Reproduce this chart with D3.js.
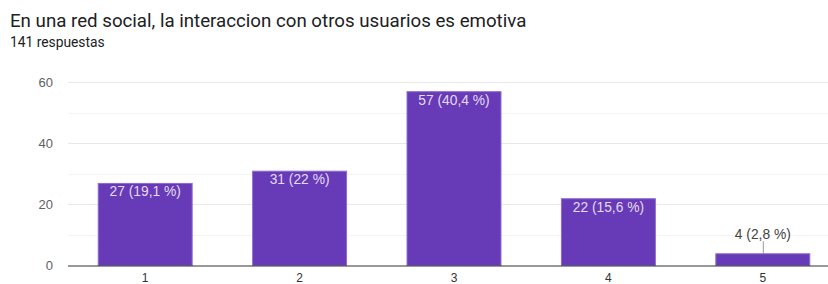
<!DOCTYPE html>
<html><head><meta charset="utf-8">
<script src="https://cdn.jsdelivr.net/npm/d3@7"></script>
<style>
body{margin:0;background:#fff;}
svg{display:block;}
</style></head>
<body>
<svg id="c" width="828" height="284"></svg>
<script>
const title = "En una red social, la interaccion con otros usuarios es emotiva";
const subtitle = "141 respuestas";
const categories = ["1","2","3","4","5"];
const values = [27, 31, 57, 22, 4];
const labels = ["27 (19,1 %)","31 (22 %)","57 (40,4 %)","22 (15,6 %)","4 (2,8 %)"];
const yTicks = [0, 20, 40, 60];
const yMinor = [10, 30, 50];

const svg = d3.select("#c");
svg.append("text").attr("x", 10).attr("y", 27)
  .attr("font-family", "Roboto, sans-serif").attr("font-size", 18.7).attr("fill", "#202124")
  .text(title);
svg.append("text").attr("x", 10).attr("y", 47)
  .attr("font-family", "Roboto, sans-serif").attr("font-size", 13.8).attr("fill", "#202124")
  .text(subtitle);

const x = d3.scaleBand().domain(categories).range([68, 840]).paddingInner(0.385).paddingOuter(0.1925);
const y = d3.scaleLinear().domain([0, 60]).range([265.5, 82]);

const g = svg.append("g");
g.selectAll("line.minor").data(yMinor).join("line")
  .attr("x1", 68).attr("x2", 828).attr("y1", d => Math.round(y(d)) + 0.5).attr("y2", d => Math.round(y(d)) + 0.5)
  .attr("stroke", "#f4f4f4");
g.selectAll("line.major").data(yTicks.filter(d => d > 0)).join("line")
  .attr("x1", 68).attr("x2", 828).attr("y1", d => Math.round(y(d)) + 0.5).attr("y2", d => Math.round(y(d)) + 0.5)
  .attr("stroke", "#e8e8e8");

g.selectAll("text.yt").data(yTicks).join("text")
  .attr("x", 53).attr("y", d => y(d) + 4.5).attr("text-anchor", "end")
  .attr("font-family", "Arial, 'Liberation Sans', sans-serif").attr("font-size", 13).attr("fill", "#5f5f5f")
  .text(d => d);

g.selectAll("rect.bar").data(values).join("rect")
  .attr("x", (d, i) => x(categories[i]) + 0.5).attr("width", x.bandwidth() - 1)
  .attr("y", d => y(d) + 0.5).attr("height", d => y(0) - y(d) - 0.5)
  .attr("fill", "#673ab7").attr("stroke", "#8e6cd0").attr("stroke-width", 1);

g.append("line").attr("x1", 68).attr("x2", 828).attr("y1", 266).attr("y2", 266)
  .attr("stroke", "#333").attr("stroke-width", 1);

g.selectAll("text.xt").data(categories).join("text")
  .attr("x", d => x(d) + x.bandwidth() / 2).attr("y", 282).attr("text-anchor", "middle")
  .attr("font-family", "Arial, 'Liberation Sans', sans-serif").attr("font-size", 12).attr("fill", "#333")
  .text(d => d);

values.forEach((v, i) => {
  const cx = x(categories[i]) + x.bandwidth() / 2;
  const h = y(0) - y(v);
  if (h > 20) {
    g.append("text").attr("x", cx).attr("y", y(v) + 13.5).attr("text-anchor", "middle")
      .attr("font-family", "Arial, 'Liberation Sans', sans-serif").attr("font-size", 13.8).attr("fill", "#e4dcf3")
      .text(labels[i]);
  } else {
    g.append("line").attr("x1", cx + 0.5).attr("x2", cx + 0.5).attr("y1", y(v)).attr("y2", y(v) - 12)
      .attr("stroke", "#999");
    g.append("text").attr("x", cx).attr("y", y(v) - 14).attr("text-anchor", "middle")
      .attr("font-family", "Arial, 'Liberation Sans', sans-serif").attr("font-size", 13.8).attr("fill", "#444")
      .text(labels[i]);
  }
});
</script>
</body></html>
